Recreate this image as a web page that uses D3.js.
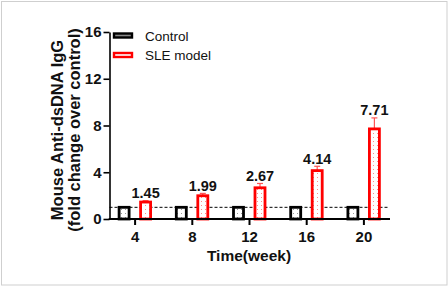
<!DOCTYPE html>
<html>
<head>
<meta charset="utf-8">
<script src="https://cdn.jsdelivr.net/npm/d3@7"></script>
<style>
  html, body { margin: 0; padding: 0; background: #fff; }
  svg { display: block; font-family: "Liberation Sans", Arial, sans-serif; }
</style>
</head>
<body>
<div id="chart"></div>
<script>
// data
const weeks = ['4', '8', '12', '16', '20'];
const controlMean = [1, 1, 1, 1, 1];
const controlErr = [0.05, 0.06, 0.05, 0.05, 0.06];
const sleMean = [1.45, 1.99, 2.67, 4.14, 7.71];
const sleErr = [0.12, 0.2, 0.37, 0.37, 0.94];
const yTicks = [0, 4, 8, 12, 16];
const seriesNames = ['Control', 'SLE model'];

const width = 448, height = 297;

const svg = d3.select('#chart')
  .append('svg')
  .attr('width', width)
  .attr('height', height);

// outer frame
svg.append('rect')
  .attr('x', 1.5).attr('y', 1.5)
  .attr('width', 445.5).attr('height', 283.5)
  .attr('fill', 'none')
  .attr('stroke', '#cfcfcf')
  .attr('stroke-width', 1);

// dot patterns for bar fills
const defs = svg.append('defs');
function dotPattern(id, color) {
  const p = defs.append('pattern')
    .attr('id', id)
    .attr('patternUnits', 'userSpaceOnUse')
    .attr('width', 4).attr('height', 4);
  p.append('rect').attr('width', 4).attr('height', 4).attr('fill', '#fff');
  p.append('rect').attr('x', 1).attr('y', 1).attr('width', 1).attr('height', 1).attr('fill', color);
}
dotPattern('dotsGray', '#9a9a9a');
dotPattern('dotsRed', '#ff8a8a');

const axisX0 = 109.5, axisX1 = 390;

const x = d3.scaleBand()
  .domain(weeks)
  .range([106.5, 392.5]);

const y = d3.scaleLinear()
  .domain([0, 16])
  .range([219, 32]);

const offsets = [-11, 10.5];
const barW = 10;

// y axis
const yAxis = svg.append('g')
  .attr('transform', `translate(${axisX0},0)`)
  .call(d3.axisLeft(y).tickValues(yTicks).tickSize(6).tickSizeOuter(0).tickPadding(2));
yAxis.select('.domain').attr('stroke', '#000').attr('stroke-width', 1.6);
yAxis.selectAll('.tick line').attr('stroke', '#000').attr('stroke-width', 1.6);
yAxis.selectAll('.tick text')
  .attr('fill', '#111')
  .style('font-size', '15px')
  .style('font-weight', 'bold');

// dashed reference line at control level
svg.append('line')
  .attr('x1', axisX0).attr('x2', axisX1 - 2)
  .attr('y1', y(1)).attr('y2', y(1))
  .attr('stroke', '#000')
  .attr('stroke-width', 1)
  .attr('stroke-dasharray', '3,2');

// x axis
const xAxis = svg.append('g')
  .attr('transform', `translate(0,${y(0)})`)
  .call(d3.axisBottom(x).tickSize(6).tickPadding(6));
xAxis.select('.domain').remove();
xAxis.selectAll('.tick line').attr('stroke', '#000').attr('stroke-width', 2);
xAxis.selectAll('.tick text')
  .attr('fill', '#111')
  .style('font-size', '15px')
  .style('font-weight', 'bold');

const series = [
  { name: seriesNames[0], mean: controlMean, err: controlErr, stroke: '#000', errStroke: '#000', fill: 'url(#dotsGray)' },
  { name: seriesNames[1], mean: sleMean, err: sleErr, stroke: '#ff0000', errStroke: '#ff5555', fill: 'url(#dotsRed)' }
];

series.forEach((s, si) => {
  const g = svg.append('g');
  const cx = i => x(weeks[i]) + x.bandwidth() / 2 + offsets[si];

  // error bars (upper only)
  g.selectAll('line.err')
    .data(s.mean)
    .enter().append('line')
    .attr('class', 'err')
    .attr('x1', (d, i) => cx(i)).attr('x2', (d, i) => cx(i))
    .attr('y1', d => y(d))
    .attr('y2', (d, i) => y(d + s.err[i]))
    .attr('stroke', s.errStroke)
    .attr('stroke-width', 1.2);

  g.selectAll('line.cap')
    .data(s.mean)
    .enter().append('line')
    .attr('class', 'cap')
    .attr('x1', (d, i) => cx(i) - 3).attr('x2', (d, i) => cx(i) + 3)
    .attr('y1', (d, i) => y(d + s.err[i]))
    .attr('y2', (d, i) => y(d + s.err[i]))
    .attr('stroke', s.errStroke)
    .attr('stroke-width', 1.2);

  g.selectAll('rect')
    .data(s.mean)
    .enter().append('rect')
    .attr('x', (d, i) => cx(i) - barW / 2)
    .attr('y', d => y(d))
    .attr('width', barW)
    .attr('height', d => y(0) - y(d))
    .attr('fill', s.fill)
    .attr('stroke', s.stroke)
    .attr('stroke-width', 2.8);
});

// value labels above SLE bars
svg.selectAll('text.val')
  .data(sleMean)
  .enter().append('text')
  .attr('class', 'val')
  .attr('x', (d, i) => x(weeks[i]) + x.bandwidth() / 2 + offsets[1])
  .attr('y', (d, i) => y(d + sleErr[i]) - 2.5)
  .attr('text-anchor', 'middle')
  .attr('fill', '#111')
  .style('font-size', '14.5px')
  .style('font-weight', 'bold')
  .text(d => d.toFixed(2));

// x axis line drawn over bar bottoms
svg.append('line')
  .attr('x1', axisX0 - 0.8).attr('x2', axisX1)
  .attr('y1', y(0)).attr('y2', y(0))
  .attr('stroke', '#000')
  .attr('stroke-width', 2.2);

// axis titles
svg.append('text')
  .attr('x', 249).attr('y', 261)
  .attr('text-anchor', 'middle')
  .attr('fill', '#111')
  .style('font-size', '15.5px')
  .style('font-weight', 'bold')
  .text('Time(week)');

const yTitle = svg.append('text')
  .attr('transform', 'translate(63,130) rotate(-90)')
  .attr('text-anchor', 'middle')
  .attr('fill', '#111')
  .style('font-size', '16.5px')
  .style('font-weight', 'bold');
yTitle.append('tspan').attr('x', 0).attr('y', 0).text('Mouse Anti-dsDNA IgG');
yTitle.append('tspan').attr('x', 0).attr('y', 17).text('(fold change over control)');

// legend
const legend = svg.append('g');
const legendY = [36, 55.5];
series.forEach((s, si) => {
  legend.append('rect')
    .attr('x', 114).attr('y', legendY[si] - 2.5)
    .attr('width', 18).attr('height', 4)
    .attr('fill', si === 0 ? '#888' : '#fff')
    .attr('stroke', s.stroke)
    .attr('stroke-width', 2.4);
  legend.append('text')
    .attr('x', 145).attr('y', legendY[si] + 4.5)
    .attr('fill', '#111')
    .style('font-size', '13.5px')
    .text(s.name);
});
</script>
</body>
</html>
